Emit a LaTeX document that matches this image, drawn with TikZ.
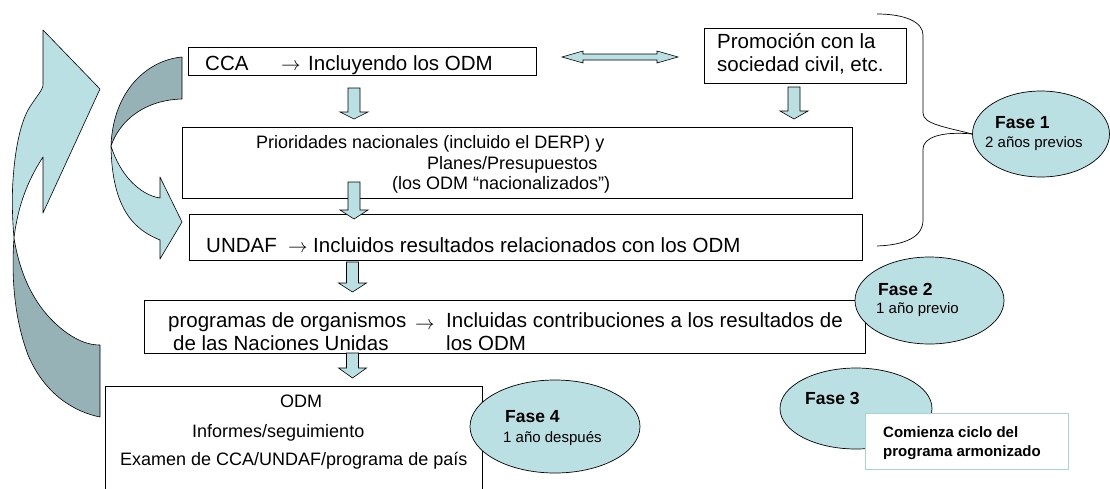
\documentclass[tikz,border=0pt]{standalone}
\usepackage{fontspec}
\setmainfont{Liberation Sans}
\usetikzlibrary{shapes.geometric}
\definecolor{lb}{HTML}{BBE0E3}
\definecolor{db}{HTML}{96B2B6}
\definecolor{lbline}{HTML}{A9D3D9}
\newcommand\dnarrow[4]{%
  \draw[blockarrow] ({#1-6},#2) -- ({#1+6},#2) -- ({#1+6},#3) -- ({#1+14},#3) -- (#1,#4) -- ({#1-14},#3) -- ({#1-6},#3) -- cycle;}
\newcommand\rarr{\scalebox{1.35}{$\rightarrow$}}
\begin{document}
\begin{tikzpicture}[x=1pt,y=-1pt,
  box/.style={draw=black, line width=0.8pt, rectangle, inner sep=0pt, fill=white},
  phase/.style={ellipse, draw=black, line width=0.7pt, fill=lb, inner sep=0pt},
  blockarrow/.style={draw=black, line width=0.6pt, fill=lb, line join=miter},
  bigarrow/.style={draw=black, line width=0.6pt, line join=round},
  txt/.style={anchor=base west, inner sep=0pt, font=\fontsize{20.5}{24}\selectfont},
  stxt/.style={anchor=base west, inner sep=0pt, font=\fontsize{18}{22}\selectfont},
  arr/.style={anchor=base west, inner sep=0pt, font=\fontsize{14}{14}\selectfont},
  fbold/.style={anchor=base west, inner sep=0pt, font=\fontsize{17.5}{20}\selectfont\bfseries},
  fsub/.style={anchor=base west, inner sep=0pt, font=\fontsize{15}{18}\selectfont},
  cbold/.style={anchor=base west, inner sep=0pt, font=\fontsize{15}{18}\selectfont\bfseries}
]
\useasboundingbox (0,0) rectangle (1110,488);

% big left arrow (cycle back)
\draw[bigarrow, fill=db] (14,238) .. controls (20,275) and (35,310) .. (67,333)
   .. controls (80,342) and (90,345) .. (100,345) -- (100,417)
   .. controls (75,412) and (45,395) .. (28,355)
   .. controls (15,320) and (11,280) .. (14,238) -- cycle;
\draw[bigarrow, fill=lb] (43,30) -- (100,89) -- (43,213) -- (43,157)
   .. controls (28,180) and (18,205) .. (14,238)
   .. controls (12,215) and (12,195) .. (13,180)
   .. controls (15,150) and (20,125) .. (28,110)
   .. controls (35,98) and (43,90) .. (43,85) -- cycle;

% middle curved arrow
\draw[bigarrow, fill=db] (182,57) .. controls (148,60) and (113,90) .. (111,146)
   .. controls (120,120) and (145,100) .. (182,99) -- cycle;
\draw[bigarrow, fill=lb] (111,146) .. controls (120,175) and (140,195) .. (160,198)
   -- (160,177) -- (182,222) -- (160,259) -- (160,240)
   .. controls (135,230) and (112,210) .. (111,146) -- cycle;

% boxes
\node[box, minimum width=348pt, minimum height=28pt] (cca) at (362,61) {};
\node[box, minimum width=202pt, minimum height=55pt] (prom) at (805,55.5) {};
\node[box, minimum width=670pt, minimum height=71pt] (prior) at (517,162.5) {};
\node[box, minimum width=673pt, minimum height=46pt] (undaf) at (525.5,237) {};
\node[box, minimum width=721pt, minimum height=53pt] (prog) at (504.5,326.5) {};
\node[box, minimum width=377pt, minimum height=114pt] (odm) at (293.5,443) {};

% texts in boxes
\node[txt] (t1) at (205,70) {CCA};
\node[arr] (a1) at (281,70) {\rarr};
\node[txt] (t2) at (308,70) {Incluyendo los ODM};
\node[txt] (t3) at (717,48) {Promoción con la};
\node[txt] (t4) at (717,71) {sociedad civil, etc.};
\node[stxt] (t5) at (256,148) {Prioridades nacionales (incluido el DERP) y};
\node[stxt] (t6) at (427,169) {Planes/Presupuestos};
\node[stxt] (t7) at (392,189) {(los ODM “nacionalizados”)};
\node[txt] (t8) at (206,252) {UNDAF};
\node[arr] (a2) at (288,252) {\rarr};
\node[txt] (t9) at (313,252) {Incluidos resultados relacionados con los ODM};
\node[txt] (t10) at (168,327) {programas de organismos};
\node[txt] (t11) at (173,350) {de las Naciones Unidas};
\node[arr] (a3) at (415,329) {\rarr};
\node[txt] (t12) at (446,327) {Incluidas contribuciones a los resultados de};
\node[txt] (t13) at (446,350) {los ODM};
\node[stxt, anchor=base] (t14) at (301,407) {ODM};
\node[stxt] (t15) at (192,437) {Informes/seguimiento};
\node[stxt] (t16) at (120,465) {Examen de CCA/UNDAF/programa de país};

% block arrows
\dnarrow{354}{88}{112}{119}
\dnarrow{794}{87}{111}{119}
\dnarrow{354}{182}{210}{219}
\dnarrow{352.5}{262}{283}{292}
\dnarrow{352.5}{353}{368}{378}
\draw[blockarrow] (562,57) -- (583,51) -- (583,54) -- (657,54) -- (657,51) -- (678,57)
   -- (657,63) -- (657,60) -- (583,60) -- (583,63) -- cycle;

% phases
\node[phase, minimum width=137pt, minimum height=86pt] (f1) at (1041,134) {};
\node[fbold] at (995,128) {Fase 1};
\node[fsub] at (985,147) {2 años previos};
\draw[line width=0.7pt] (877,14) .. controls (905,14) and (923,22) .. (923,35) -- (923,113)
   .. controls (923,124) and (945,127) .. (f1.west);
\draw[line width=0.7pt] (f1.west) .. controls (940,131) and (923,138) .. (923,149) -- (923,220)
   .. controls (923,237) and (905,245) .. (877,246);

\node[phase, minimum width=149pt, minimum height=87pt] (f2) at (929.5,300.5) {};
\node[fbold] at (878,295) {Fase 2};
\node[fsub] at (876,313) {1 año previo};

\node[phase, minimum width=152pt, minimum height=81pt] (f3) at (856,408.5) {};
\node[fbold] at (805,404) {Fase 3};
\node[draw=lbline, line width=0.8pt, fill=white, minimum width=203pt, minimum height=56pt, inner sep=0pt] (com) at (966.5,441) {};
\node[cbold] at (883,437) {Comienza ciclo del};
\node[cbold] at (883,456) {programa armonizado};

\node[phase, minimum width=170pt, minimum height=93pt] (f4) at (555,426.5) {};
\node[fbold] at (505,422) {Fase 4};
\node[fsub] at (503,442) {1 año después};
\end{tikzpicture}
\end{document}
